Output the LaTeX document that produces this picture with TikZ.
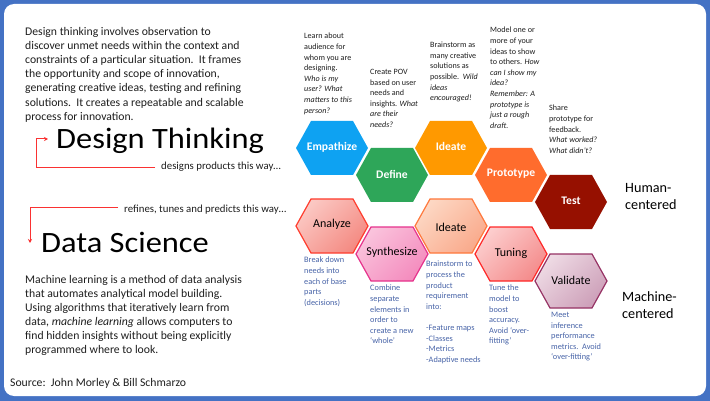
\documentclass[tikz,border=0pt]{standalone}
\usepackage{fontspec}
\setmainfont{Carlito}
\newfontfamily\titlefont{Carlito}[FakeStretch=1.1]
\usetikzlibrary{calc,arrows.meta}
\definecolor{framebl}{RGB}{68,114,196}
\definecolor{txt}{RGB}{30,30,30}
\definecolor{bgray}{RGB}{72,100,168}
\definecolor{arrred}{RGB}{250,50,50}
\definecolor{cEmpf}{RGB}{14,162,242}
\definecolor{cDeff}{RGB}{46,166,89}
\definecolor{cIdef}{RGB}{255,153,0}
\definecolor{cProf}{RGB}{255,108,45}
\definecolor{cTesf}{RGB}{150,16,0}
\definecolor{anaB}{RGB}{255,60,45}
\definecolor{anaL}{RGB}{251,200,195}
\definecolor{anaD}{RGB}{244,138,130}
\definecolor{synB}{RGB}{230,50,140}
\definecolor{synL}{RGB}{250,195,220}
\definecolor{synD}{RGB}{244,140,190}
\definecolor{idbB}{RGB}{255,120,60}
\definecolor{idbL}{RGB}{253,215,195}
\definecolor{idbD}{RGB}{249,170,140}
\definecolor{tunB}{RGB}{255,40,40}
\definecolor{tunL}{RGB}{252,205,205}
\definecolor{tunD}{RGB}{244,140,140}
\definecolor{valB}{RGB}{150,50,100}
\definecolor{valL}{RGB}{238,218,228}
\definecolor{valD}{RGB}{205,160,185}
\newcommand\hexshape[2]{\path[#2,shift={(#1)}] (-36,0)--(-21,-27)--(21,-27)--(36,0)--(21,27)--(-21,27)--cycle;}
\begin{document}
\begin{tikzpicture}[x=1pt,y=-1pt,
  para/.style={anchor=north west,inner sep=0pt,align=left,text=txt,font=\fontsize{11.7}{14.1}\selectfont},
  desc/.style={anchor=north west,inner sep=0pt,align=left,text=txt,font=\fontsize{8.1}{10.6}\selectfont},
  bdesc/.style={desc,text=bgray,font=\fontsize{8.3}{10.6}\selectfont},
  big/.style={anchor=base west,inner sep=0pt,text=black,font=\titlefont\fontsize{29.5}{32}\selectfont},
  small/.style={anchor=base west,inner sep=0pt,text=txt,font=\fontsize{10.8}{12}\selectfont},
  side/.style={anchor=north west,inner sep=0pt,align=left,text=black,font=\fontsize{14.2}{17}\selectfont},
  toplabel/.style={text=white,inner sep=0pt,font=\fontsize{11.6}{14}\selectfont\bfseries},
  botlabel/.style={text=black,inner sep=0pt,font=\fontsize{12}{14}\selectfont},
  redarrow/.style={draw=arrred,line width=1pt,-{Stealth[length=4pt,width=4pt]}},
  bothex/.style={draw=#1B,line width=1.2pt,top color=#1L,bottom color=#1D,shading angle=45}
]
\useasboundingbox (0,0) rectangle (710,401);
\fill[framebl] (0,0) rectangle (710,401);
\fill[white,rounded corners=10pt] (4,4) rectangle (706,396);

% left texts
\node[para] (p1) at (25,27.2) {Design thinking involves observation to\\discover unmet needs within the context and\\constraints of a particular situation.\ \ It frames\\the opportunity and scope of innovation,\\generating creative ideas, testing and refining\\solutions.\ \ It creates a repeatable and scalable\\process for innovation.};
\node[big] (dt) at (56,148.5) {Design Thinking};
\node[small] (s1) at (161,170) {designs products this way…};
\node[small] (s2) at (124,212) {refines, tunes and predicts this way…};
\node[big] (ds) at (41,252) {Data Science};
\node[para] (p2) at (25,275) {Machine learning is a method of data analysis\\that automates analytical model building.\\Using algorithms that iteratively learn from\\data, \textit{machine learning} allows computers to\\find hidden insights without being explicitly\\programmed where to look.};
\node[anchor=base west,inner sep=0pt,text=txt,font=\fontsize{11.7}{13}\selectfont] (src) at (10,386.5) {Source:\ \ John Morley \& Bill Schmarzo};

% red arrows
\coordinate (a1s) at (155,167.5);
\coordinate (a1k) at (36,139);
\coordinate (a1e) at (48,139);
\draw[redarrow] (a1s) -| (a1k) -- (a1e);
\coordinate (a2s) at (118,208);
\coordinate (a2e) at (30,243);
\draw[redarrow] (a2s) -| (a2e);

% top hexagons
\coordinate (cEmp) at (332,148);
\coordinate (cDef) at (392,175);
\coordinate (cIde) at (451,148);
\coordinate (cPro) at (511,175);
\coordinate (cTes) at (571,202);
\hexshape{cEmp}{fill=cEmpf}
\hexshape{cDef}{fill=cDeff}
\hexshape{cIde}{fill=cIdef}
\hexshape{cPro}{fill=cProf}
\hexshape{cTes}{fill=cTesf}
\node[toplabel] (lEmp) at ($(cEmp)+(0,-1)$) {Empathize};
\node[toplabel] (lDef) at ($(cDef)+(0,-1)$) {Define};
\node[toplabel] (lIde) at ($(cIde)+(0,-2)$) {Ideate};
\node[toplabel] (lPro) at ($(cPro)+(0,-1)$) {Prototype};
\node[toplabel] (lTes) at ($(cTes)+(0,-1)$) {Test};

% bottom hexagons
\coordinate (cAna) at (332,226);
\coordinate (cSyn) at (392,254);
\coordinate (cIdb) at (451,226);
\coordinate (cTun) at (511,254);
\coordinate (cVal) at (571,281);
\hexshape{cAna}{bothex=ana}
\hexshape{cSyn}{bothex=syn}
\hexshape{cIdb}{bothex=idb}
\hexshape{cTun}{bothex=tun}
\hexshape{cVal}{bothex=val}
\node[botlabel] (lAna) at ($(cAna)+(0,-2)$) {Analyze};
\node[botlabel] (lSyn) at ($(cSyn)+(0,-2)$) {Synthesize};
\node[botlabel] (lIdb) at ($(cIdb)+(0,1)$) {Ideate};
\node[botlabel] (lTun) at ($(cTun)+(0,-1)$) {Tuning};
\node[botlabel] (lVal) at ($(cVal)+(0,-1)$) {Validate};

% top descriptions
\node[desc] (dEmp) at (304,33) {Learn about\\audience for\\whom you are\\designing.\\\textit{Who is my}\\\textit{user? What}\\\textit{matters to this}\\\textit{person?}};
\node[desc] (dDef) at (370,69) {Create POV\\based on user\\needs and\\insights. \textit{What}\\\textit{are their}\\\textit{needs?}};
\node[desc] (dIde) at (430,42) {Brainstorm as\\many creative\\solutions as\\possible.\ \ \textit{Wild}\\\textit{ideas}\\\textit{encouraged!}};
\node[desc] (dPro) at (490,27) {Model one or\\more of your\\ideas to show\\to others. \textit{How}\\\textit{can I show my}\\\textit{idea?}\\\textit{Remember: A}\\\textit{prototype is}\\\textit{just a rough}\\\textit{draft.}};
\node[desc] (dTes) at (549,105) {Share\\prototype for\\feedback.\\\textit{What worked?}\\\textit{What didn’t?}};

% bottom descriptions
\node[bdesc] (eAna) at (304,257) {Break down\\needs into\\each of base\\parts\\(decisions)};
\node[bdesc] (eSyn) at (370,285) {Combine\\separate\\elements in\\order to\\create a new\\‘whole’};
\node[bdesc] (eIdb) at (426,261) {Brainstorm to\\process the\\product\\requirement\\into:\\[10.6pt]-Feature maps\\-Classes\\-Metrics\\-Adaptive needs};
\node[bdesc] (eTun) at (489,285) {Tune the\\model to\\boost\\accuracy.\\Avoid ‘over-\\fitting’};
\node[bdesc] (eVal) at (551,312) {Meet\\inference\\performance\\metrics.\ \ Avoid\\‘over-fitting’};

% side labels
\node[side] (hc) at (625,183.5) {Human-\\centered};
\node[side] (mc) at (622,291.5) {Machine-\\centered};
\end{tikzpicture}
\end{document}
